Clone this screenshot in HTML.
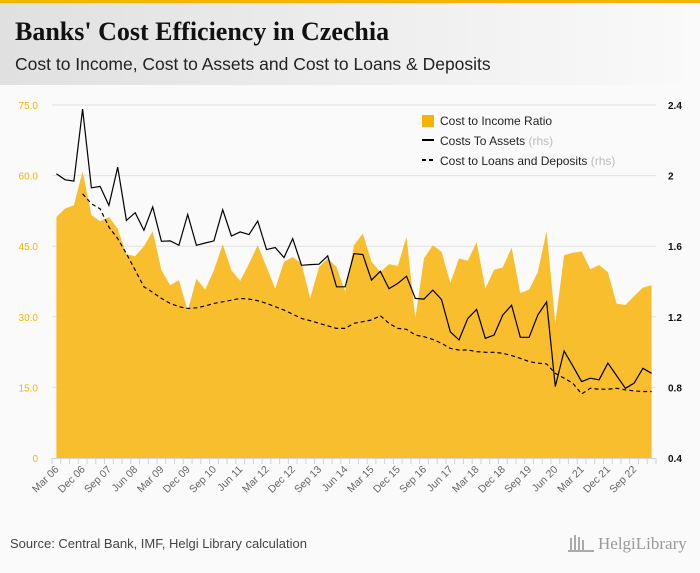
<!DOCTYPE html>
<html><head><meta charset="utf-8"><style>
body{margin:0;width:700px;height:568px;background:#fafafa;overflow:hidden;font-family:"Liberation Sans",sans-serif}
</style></head><body>
<svg id="c" width="700" height="568" xmlns="http://www.w3.org/2000/svg">
<defs><linearGradient id="hg" x1="0" x2="1"><stop offset="0" stop-color="#e0e0e0"/><stop offset="1" stop-color="#fafafa"/></linearGradient></defs>
<rect x="0" y="0" width="700" height="3" fill="#f5b400"/>
<rect x="0" y="3" width="700" height="82" fill="url(#hg)"/>
<text x="15" y="40" font-family="Liberation Serif,serif" font-weight="bold" font-size="26" fill="#111">Banks' Cost Efficiency in Czechia</text>
<text x="15" y="70" font-size="17.5" fill="#222">Cost to Income, Cost to Assets and Cost to Loans &amp; Deposits</text>
<g id="grid"></g><g id="plot"></g><g id="axes"></g>
<g>
<rect x="422" y="115" width="12" height="12" fill="#f5b400"/>
<text x="440" y="125" font-size="12" fill="#222">Cost to Income Ratio</text>
<line x1="422" y1="140" x2="434" y2="140" stroke="#000" stroke-width="2"/>
<text x="440" y="145" font-size="12" fill="#222">Costs To Assets <tspan fill="#bbb">(rhs)</tspan></text>
<line x1="422" y1="160" x2="434" y2="160" stroke="#000" stroke-width="2" stroke-dasharray="4,3"/>
<text x="440" y="165" font-size="12" fill="#222">Cost to Loans and Deposits <tspan fill="#bbb">(rhs)</tspan></text>
</g>
<text x="10" y="548" font-size="13" fill="#444">Source: Central Bank, IMF, Helgi Library calculation</text>
<text x="598" y="549" font-family="Liberation Serif,serif" font-size="17" fill="#999">HelgiLibrary</text>
<g fill="#aaa"><rect x="570" y="538" width="2" height="12"/><rect x="574" y="535" width="2" height="15"/><rect x="578" y="537" width="2" height="13"/><rect x="582" y="540" width="2" height="10"/><rect x="568" y="550" width="26" height="2"/></g>
</svg>
<script>
const months=["Mar","Jun","Sep","Dec"];
const categories=[];for(let y=6;y<=23;y++)for(let q=0;q<4;q++){if(y===23&&q>0)break;categories.push(months[q]+" "+String(y).padStart(2,"0"));}
const costToIncome=[51.2,53.0,53.7,60.9,51.6,50.3,51.2,48.7,43.3,42.9,45.0,48.2,39.9,36.7,37.8,31.3,38.1,35.8,39.9,45.4,39.9,37.6,41.3,45.2,40.6,36.0,41.7,42.7,41.3,33.9,40.6,42.4,40.6,35.3,45.2,47.7,41.7,39.5,41.2,40.8,47.0,29.7,42.4,45.2,43.8,37.2,42.4,41.9,45.9,36.0,40.0,40.5,44.7,35.0,35.8,39.5,48.2,28.6,43.1,43.6,43.9,40.1,41.0,39.5,32.8,32.5,34.4,36.2,36.7];
const costToAssets=[2.010,1.976,1.969,2.377,1.931,1.939,1.831,2.048,1.746,1.790,1.690,1.822,1.628,1.630,1.605,1.780,1.605,1.618,1.630,1.807,1.658,1.681,1.666,1.743,1.581,1.592,1.536,1.643,1.492,1.496,1.498,1.545,1.370,1.370,1.558,1.553,1.408,1.458,1.360,1.389,1.430,1.304,1.300,1.351,1.298,1.115,1.069,1.191,1.242,1.078,1.097,1.210,1.266,1.084,1.084,1.210,1.285,0.805,1.006,0.922,0.833,0.852,0.843,0.937,0.867,0.795,0.824,0.908,0.880];
const costToLoans=[null,null,null,1.897,1.841,1.812,1.709,1.643,1.558,1.464,1.370,1.338,1.304,1.276,1.257,1.247,1.251,1.261,1.276,1.285,1.294,1.304,1.300,1.291,1.276,1.257,1.238,1.215,1.191,1.178,1.163,1.149,1.134,1.134,1.163,1.172,1.182,1.206,1.163,1.134,1.129,1.097,1.087,1.072,1.050,1.021,1.012,1.012,1.003,0.999,0.999,0.993,0.980,0.965,0.946,0.937,0.933,0.880,0.852,0.824,0.763,0.795,0.790,0.790,0.795,0.786,0.780,0.777,0.777];
const leftTicks=[0,15,30,45,60,75];
const leftTickLabels=["0","15.0","30.0","45.0","60.0","75.0"];
const rightTicks=[0.4,0.8,1.2,1.6,2,2.4];
const rightTickLabels=["0.4","0.8","1.2","1.6","2","2.4"];

const NS="http://www.w3.org/2000/svg";
const X0=52,X1=656,Y0=458,Y1=105;
const step=(X1-X0)/categories.length;
const x=i=>X0+step*(i+0.5);
const yL=v=>Y0-(v-0)/(75-0)*(Y0-Y1);
const yR=v=>Y0-(v-0.4)/(2.4-0.4)*(Y0-Y1);
function mk(tag,attrs,parent){const e=document.createElementNS(NS,tag);for(const k in attrs)e.setAttribute(k,attrs[k]);parent.appendChild(e);return e;}
const grid=document.getElementById("grid"),plot=document.getElementById("plot"),axes=document.getElementById("axes");
leftTicks.forEach((t,i)=>{
 if(t>0){const g=mk("line",{x1:X0,x2:X1,y1:yL(t),y2:yL(t),stroke:"#e2e2e2","stroke-width":1},grid);
 
 }
 const tx=mk("text",{x:38,y:yL(t)+4,"text-anchor":"end","font-size":"10",fill:"#f5b400"},axes);tx.textContent=leftTickLabels[i];
 
 
});
rightTicks.forEach((t,i)=>{
 const tx=mk("text",{x:668,y:yR(t)+4,"font-size":"10","font-weight":"bold",fill:"#111"},axes);tx.textContent=rightTickLabels[i];
 
 
});
let d="M"+x(0)+","+Y0;costToIncome.forEach((v,i)=>{d+=" L"+x(i).toFixed(1)+","+yL(v).toFixed(1);});d+=" L"+x(costToIncome.length-1)+","+Y0+" Z";
const area=mk("path",{d:d,fill:"#f8b716",opacity:"0.9"},plot);


let d2="";costToAssets.forEach((v,i)=>{d2+=(i?" L":"M")+x(i).toFixed(1)+","+yR(v).toFixed(1);});
const l1=mk("path",{d:d2,fill:"none",stroke:"#000","stroke-width":1.2},plot);


let d3="",st=false;costToLoans.forEach((v,i)=>{if(v==null)return;d3+=(st?" L":"M")+x(i).toFixed(1)+","+yR(v).toFixed(1);st=true;});
const l2=mk("path",{d:d3,fill:"none",stroke:"#000","stroke-width":1.2,"stroke-dasharray":"4,3"},plot);


const ax=mk("line",{x1:X0,x2:X1,y1:Y0+0.5,y2:Y0+0.5,stroke:"#c8d4e8","stroke-width":1},axes);


for(let i=0;i<=categories.length;i++){const tk=mk("line",{x1:X0+step*i,x2:X0+step*i,y1:Y0,y2:Y0+6,stroke:"#c8d4e8"},axes);
 
 }
categories.forEach((c,i)=>{if(i%3!==0)return;
 const tx=mk("text",{x:x(i)+3,y:Y0+12,"text-anchor":"end","font-size":"10.5",fill:"#666",transform:`rotate(-45 ${x(i)+3} ${Y0+12})`},axes);tx.textContent=c;
 
 
});
</script>
</body></html>
